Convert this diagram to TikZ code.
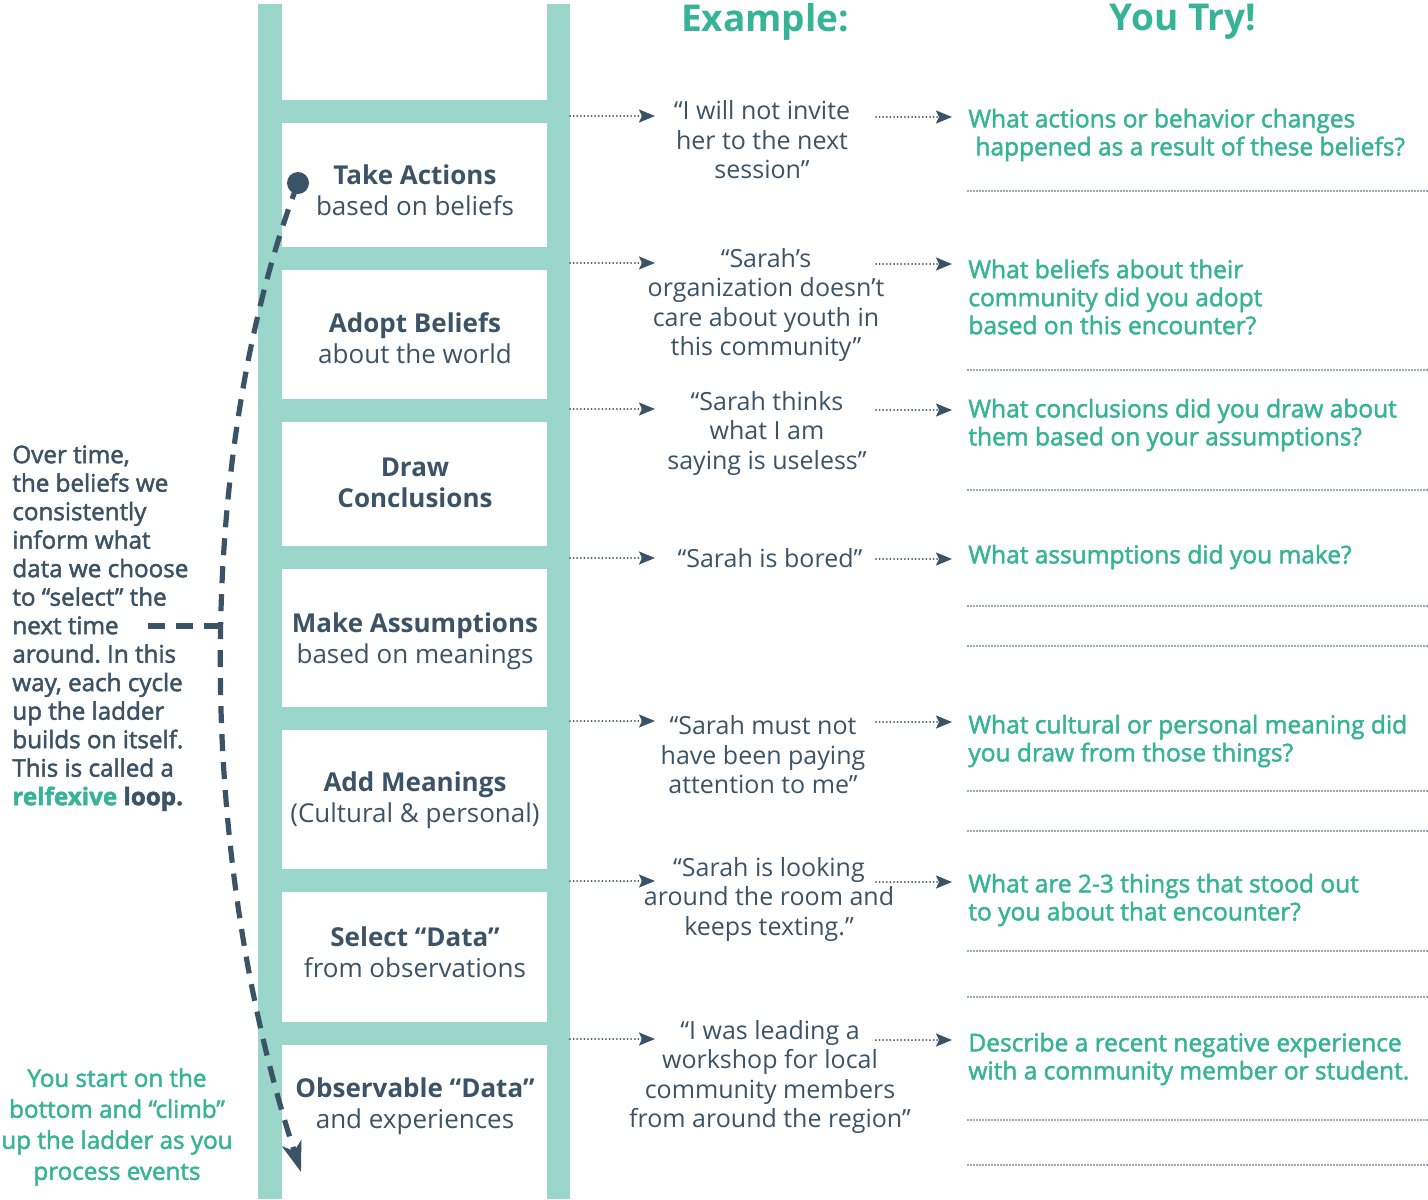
\documentclass[tikz,border=0pt]{standalone}
\usepackage{fontspec}
\setmainfont{Open Sans}
\newfontfamily\semi{Open Sans}[FakeBold=2]
\usetikzlibrary{arrows.meta}
\definecolor{rail}{HTML}{9AD6CA}
\definecolor{ink}{HTML}{3B5366}
\definecolor{accent}{HTML}{37B397}
\frenchspacing
\tikzset{
  stepname/.style={text=ink, align=center, inner sep=0pt, font=\fontsize{13}{15.5}\selectfont},
  example/.style={text=ink, align=center, inner sep=0pt, font=\fontsize{12.5}{14.75}\selectfont},
  question/.style={text=accent, align=left, anchor=west, inner sep=0pt, font=\semi\fontsize{12.25}{14}\selectfont},
  note/.style={text=ink, align=left, inner sep=0pt, font=\semi\fontsize{12.1}{14.25}\selectfont},
  climbnote/.style={text=accent, align=center, inner sep=0pt, font=\semi\fontsize{12.1}{15.5}\selectfont},
  heading/.style={text=accent, inner sep=0pt, font=\bfseries\fontsize{18.5}{20}\selectfont},
  hint/.style={ink, line width=1pt, dash pattern=on 0pt off 1.8pt, line cap=round,
    -{Stealth[length=8pt,width=6.5pt,inset=1.5pt]}},
  answer/.style={ink, line width=0.8pt, dash pattern=on 0pt off 1.5pt, line cap=round},
  cycle/.style={ink, line width=2.6pt, dash pattern=on 8.5pt off 5.5pt}
}
\begin{document}
\begin{tikzpicture}[x=0.5pt, y=-0.5pt]
\useasboundingbox (0,0) rectangle (1428,1199);
% ladder
\fill[rail] (258,4) rectangle (282,1199);
\fill[rail] (547,4) rectangle (570,1199);
\foreach \y in {100,247,399,546,707,869,1022}
  \fill[rail] (282,\y) rectangle (547,\y+23);
% steps
\node[stepname] (take) at (415,190) {\textbf{Take Actions}\\based on beliefs};
\node[stepname] (adopt) at (415,338) {\textbf{Adopt Beliefs}\\about the world};
\node[stepname] (draw) at (415,483) {\textbf{Draw}\\\textbf{Conclusions}};
\node[stepname] (assume) at (415,641) {\textbf{Make Assumptions}\\based on meanings};
\node[stepname] (meaning) at (415,800) {\textbf{Add Meanings}\\(Cultural \& personal)};
\node[stepname] (select) at (415,952) {\textbf{Select “Data”}\\from observations};
\node[stepname] (observe) at (415,1106) {\textbf{Observable “Data”}\\and experiences};
% headings
\node[heading] (exhead) at (765,22) {Example:};
\node[heading] (tryhead) at (1183,22) {You Try!};
% examples
\node[example] (ex1) at (762,140) {“I will not invite\\her to the next\\session”};
\node[example] (ex2) at (766,305) {“Sarah’s\\organization doesn’t\\care about youth in\\this community”};
\node[example] (ex3) at (767,433) {“Sarah thinks\\what I am\\saying is useless”};
\node[example] (ex4) at (770,558) {“Sarah is bored”};
\node[example] (ex5) at (763,755) {“Sarah must not\\have been paying\\attention to me”};
\node[example] (ex6) at (769,899) {“Sarah is looking\\around the room and\\keeps texting.”};
\node[example] (ex7) at (770,1077) {“I was leading a\\workshop for local\\community members\\from around the region”};
% questions
\node[question] (q1) at (968,135) {What actions or behavior changes\\\hspace{3.5pt}happened as a result of these beliefs?};
\node[question] (q2) at (968,297) {What beliefs about their\\community did you adopt\\based on this encounter?};
\node[question] (q3) at (968,425) {What conclusions did you draw about\\them based on your assumptions?};
\node[question] (q4) at (968,557) {What assumptions did you make?};
\node[question] (q5) at (968,741) {What cultural or personal meaning did\\you draw from those things?};
\node[question] (q6) at (968,900) {What are 2-3 things that stood out\\to you about that encounter?};
\node[question] (q7) at (968,1059) {Describe a recent negative experience\\with a community member or student.};
% arrows
\foreach \i/\y in {1/116,2/263,3/409,4/558,5/721,6/881,7/1039} {
  \coordinate (rail\i) at (570,\y);
  \coordinate (into\i) at (655,\y);
  \coordinate (from\i) at (876,\y+1);
  \coordinate (ask\i) at (952,\y+1);
  \draw[hint] (rail\i) -- (into\i);
  \draw[hint] (from\i) -- (ask\i);
}
% answer lines
\foreach \y in {191,370,490,606,646,791,831,951,997,1120,1165}
  \draw[answer] (968,\y) -- (1428,\y);
% loop
\coordinate (finish) at (301,1172);
\coordinate (join) at (220,626);
\coordinate (tail) at (148,626);
\draw[cycle, -{Stealth[length=15pt,width=10pt,inset=4pt]}] (298,183) .. controls (200,440) and (190,830) .. (finish);
\draw[cycle] (tail) -- (join);
\node[circle, fill=ink, minimum size=11pt, inner sep=0pt] (start) at (298,183) {};
% side notes
\node[note, anchor=north west] (over) at (12,445) {Over time,\\the beliefs we\\consistently\\inform what\\data we choose\\to “select” the\\next time\\around. In this\\way, each cycle\\up the ladder\\builds on itself.\\This is called a\\\textbf{\textcolor{accent}{relfexive} loop.}};
\node[climbnote] (climb) at (117,1127) {You start on the\\bottom and “climb”\\up the ladder as you\\process events};
\end{tikzpicture}
\end{document}
